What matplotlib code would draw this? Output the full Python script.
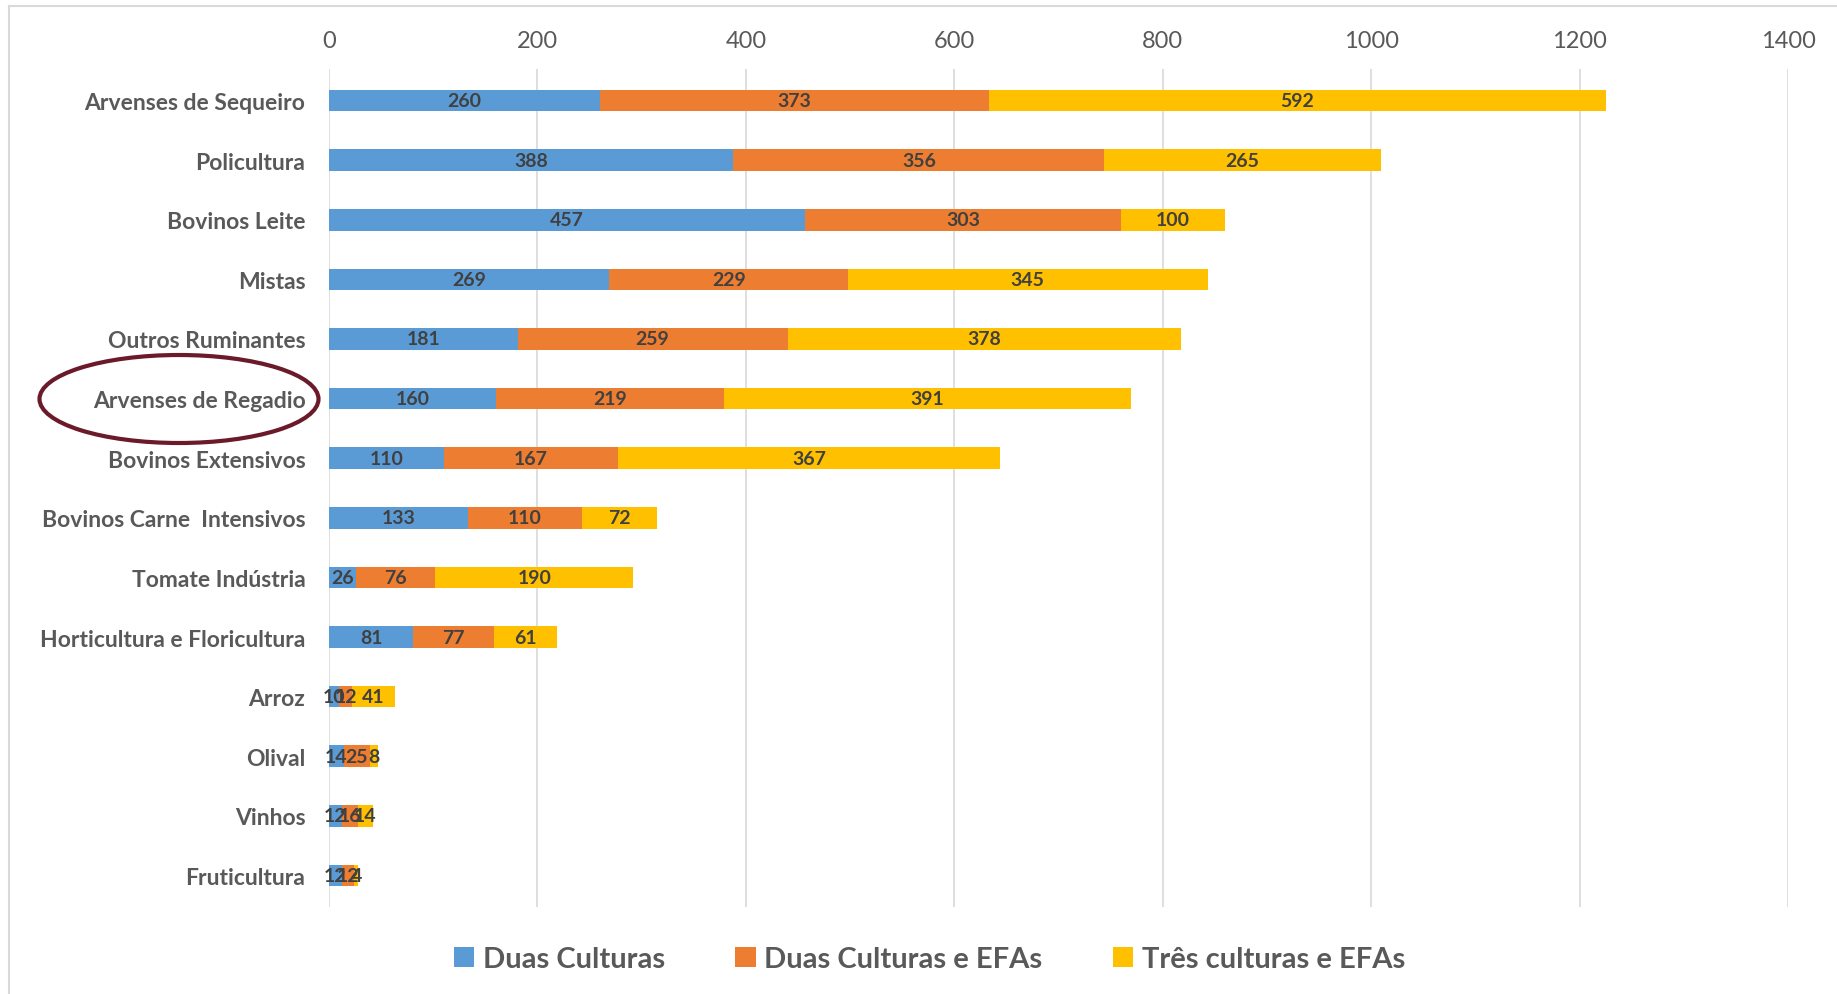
import matplotlib.pyplot as plt
import matplotlib
from matplotlib.patches import Ellipse
import numpy as np

plt.rcParams['font.family'] = ['Lato', 'DejaVu Sans']

categories = ['Arvenses de Sequeiro', 'Policultura', 'Bovinos Leite', 'Mistas',
              'Outros Ruminantes', 'Arvenses de Regadio', 'Bovinos Extensivos',
              'Bovinos Carne  Intensivos', 'Tomate Indústria',
              'Horticultura e Floricultura', 'Arroz', 'Olival', 'Vinhos', 'Fruticultura']
duas_culturas = [260, 388, 457, 269, 181, 160, 110, 133, 26, 81, 10, 14, 12, 12]
duas_culturas_efa = [373, 356, 303, 229, 259, 219, 167, 110, 76, 77, 12, 25, 16, 12]
tres_culturas_efa = [592, 265, 100, 345, 378, 391, 367, 72, 190, 61, 41, 8, 14, 4]
series_names = ['Duas Culturas', 'Duas Culturas e EFAs', 'Três culturas e EFAs']
colors = ['#5B9BD5', '#ED7D31', '#FFC000']

W, H = 1837, 995
fig = plt.figure(figsize=(W / 100, H / 100), dpi=100)
ax = fig.add_axes([329 / W, 1 - 908 / H, (1788 - 329) / W, (908 - 70) / H])

y = np.arange(len(categories))
left = np.zeros(len(categories))
for vals, name, c in zip([duas_culturas, duas_culturas_efa, tres_culturas_efa], series_names, colors):
    bars = ax.barh(y, vals, left=left, height=0.36, color=c, label=name, zorder=3)
    ax.bar_label(bars, labels=[str(v) for v in vals], label_type='center',
                 fontsize=14, fontweight='bold', color='#404040', zorder=4)
    left += np.array(vals)

ax.set_xlim(0, 1400)
ax.set_ylim(len(categories) - 0.47, -0.53)
ax.set_xticks(np.arange(0, 1401, 200))
ax.xaxis.tick_top()
ax.tick_params(axis='x', length=0, pad=13, labelsize=17, labelcolor='#595959')
ax.set_yticks(y)
ax.set_yticklabels(categories, fontsize=16.5, fontweight='bold', color='#595959')
ax.tick_params(axis='y', length=0, pad=17)
ax.grid(axis='x', color='#D9D9D9', linewidth=1.2, zorder=0)
for s in ax.spines.values():
    s.set_visible(False)

fig.legend(loc='center', bbox_to_anchor=(0.506, 0.035), ncol=3, frameon=False,
           prop={'size': 21, 'weight': 'bold'}, labelcolor='#595959',
           handlelength=0.7, handleheight=0.7, handletextpad=0.3, columnspacing=2.4)

# outer chart frame
fig.add_artist(matplotlib.lines.Line2D([9 / W, 9 / W], [0, 1 - 7 / H], color='#D9D9D9', linewidth=1.5))
fig.add_artist(matplotlib.lines.Line2D([9 / W, 1], [1 - 7 / H, 1 - 7 / H], color='#D9D9D9', linewidth=1.5))

# highlight ellipse around Arvenses de Regadio
fig.add_artist(Ellipse((179 / W, 1 - 400 / H), 279 / W, 88 / H, fill=False,
                       edgecolor='#6B1A2A', linewidth=3))

plt.savefig('out.png', dpi=100)
